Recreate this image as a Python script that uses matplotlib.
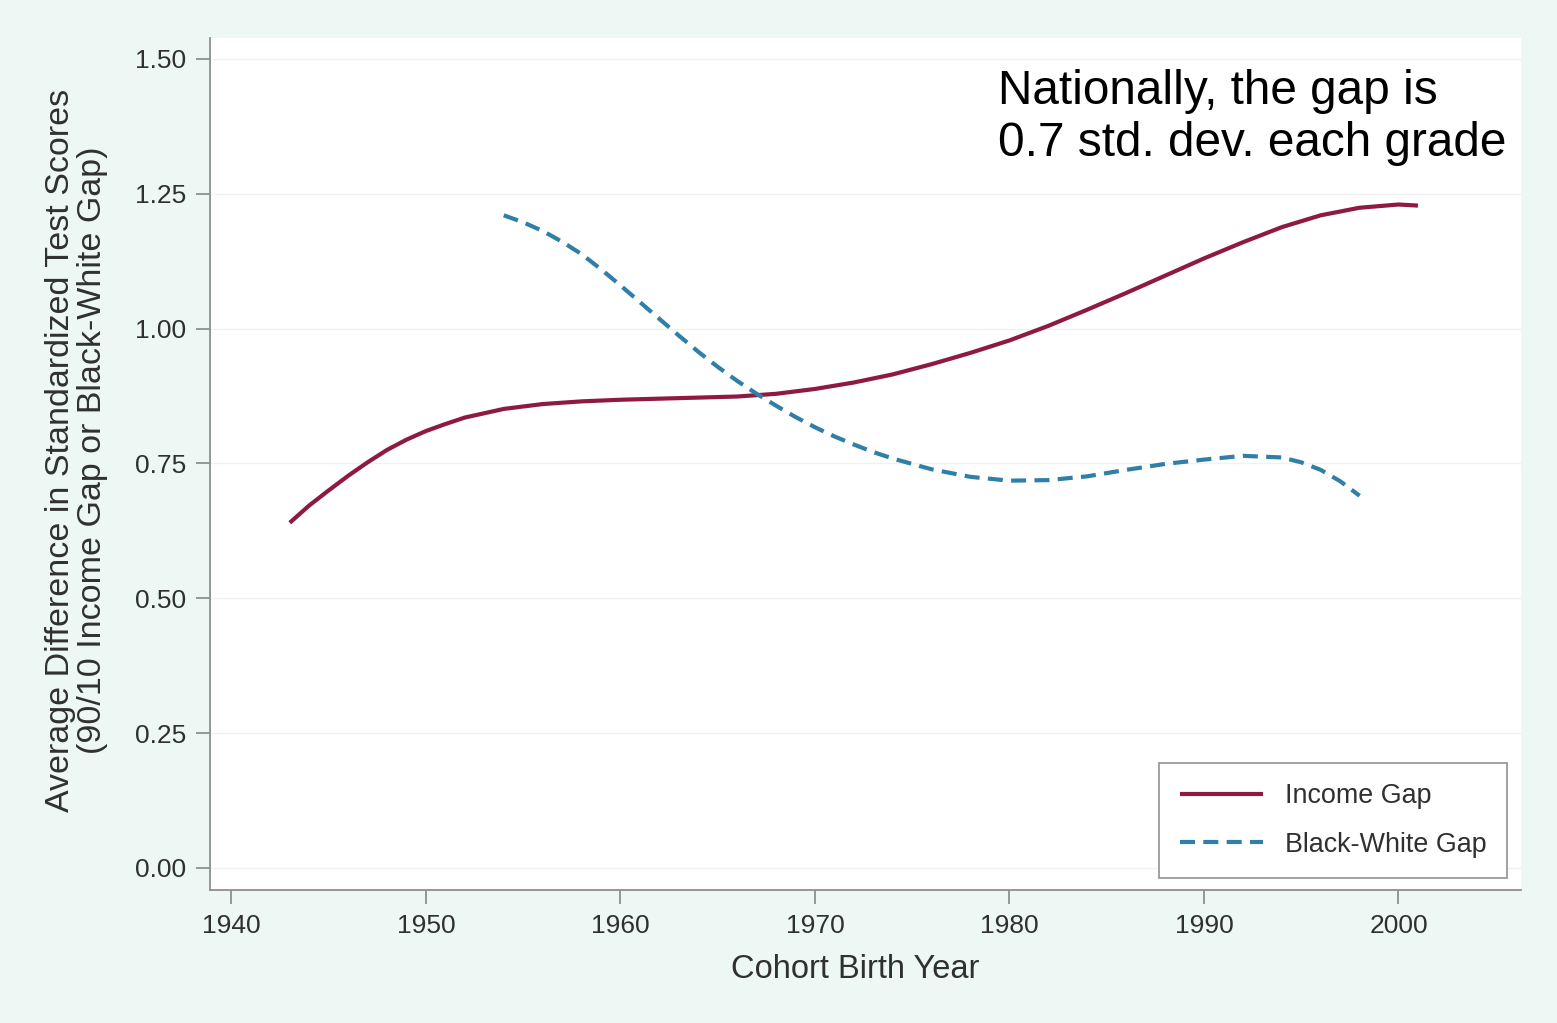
import matplotlib.pyplot as plt

# ----------------------------
# Data
# ----------------------------
income_years = [1943, 1944, 1945, 1946, 1947, 1948, 1949, 1950, 1951, 1952, 1954, 1956,
                1958, 1960, 1962, 1964, 1966, 1968, 1970, 1972, 1974, 1976, 1978, 1980,
                1982, 1984, 1986, 1988, 1990, 1992, 1994, 1996, 1998, 2000, 2001]
income_gap = [0.640, 0.672, 0.700, 0.727, 0.752, 0.775, 0.794, 0.810, 0.823, 0.835, 0.851, 0.860,
              0.865, 0.868, 0.870, 0.872, 0.874, 0.879, 0.888, 0.900, 0.915, 0.934, 0.955, 0.978,
              1.005, 1.035, 1.066, 1.098, 1.130, 1.160, 1.188, 1.210, 1.224, 1.230, 1.228]

bw_years = [1954, 1955, 1956, 1957, 1958, 1959, 1960, 1961, 1962, 1963, 1964, 1965, 1966,
            1967, 1968, 1969, 1970, 1971, 1972, 1973, 1974, 1976, 1978, 1980, 1982,
            1984, 1986, 1988, 1990, 1992, 1994, 1995, 1996, 1997, 1998]
bw_gap = [1.210, 1.197, 1.181, 1.161, 1.138, 1.110, 1.080, 1.049, 1.018, 0.987, 0.957, 0.929, 0.903,
          0.879, 0.857, 0.836, 0.817, 0.800, 0.785, 0.771, 0.759, 0.739, 0.725, 0.718, 0.719,
          0.726, 0.738, 0.749, 0.757, 0.764, 0.761, 0.752, 0.738, 0.717, 0.690]

x_ticks = [1940, 1950, 1960, 1970, 1980, 1990, 2000]
y_ticks = [0.00, 0.25, 0.50, 0.75, 1.00, 1.25, 1.50]

# ----------------------------
# Styling
# ----------------------------
plt.rcParams['font.family'] = ['Liberation Sans', 'DejaVu Sans']
bg = '#edf8f4'
axis_gray = '#8c9090'
text_gray = '#303030'
income_color = '#8e1a40'
bw_color = '#2f7fa7'

fig = plt.figure(figsize=(15.57, 10.23), dpi=100, facecolor=bg)
ax = fig.add_axes([0.1349, 0.130, 0.8420, 0.833])
ax.set_facecolor('white')

ax.plot(income_years, income_gap, color=income_color, lw=3.0, label='Income Gap',
        solid_capstyle='butt')
ax.plot(bw_years, bw_gap, color=bw_color, lw=3.0, label='Black-White Gap',
        dashes=(3.6, 2.0))

ax.set_xlim(1938.9, 2006.3)
ax.set_ylim(-0.041, 1.539)
ax.set_xticks(x_ticks)
ax.set_yticks(y_ticks)
ax.set_yticklabels([f'{v:.2f}' for v in y_ticks])

ax.grid(axis='y', color='#eef3f1', lw=1.0)
ax.set_axisbelow(True)

for side in ['top', 'right']:
    ax.spines[side].set_visible(False)
for side in ['left', 'bottom']:
    ax.spines[side].set_color(axis_gray)
    ax.spines[side].set_linewidth(1.3)

ax.tick_params(axis='both', colors=axis_gray, labelcolor=text_gray,
               labelsize=19, length=10, width=1.3, pad=7)

ax.set_xlabel('Cohort Birth Year', fontsize=23.5, color=text_gray)
ax.xaxis.set_label_coords(0.492, -0.075)
ax.set_ylabel('Average Difference in Standardized Test Scores\n'
              '(90/10 Income Gap or Black-White Gap)',
              fontsize=24.5, color=text_gray, linespacing=1.05)
ax.yaxis.set_label_coords(-0.0775, 0.516)

ax.text(0.601, 0.963, 'Nationally, the gap is\n0.7 std. dev. each grade',
        transform=ax.transAxes, fontsize=34.4, color='black', va='top', ha='left',
        linespacing=1.2)

leg = ax.legend(loc='lower right', bbox_to_anchor=(0.989, 0.014), fontsize=19.4,
                handlelength=3.1, handletextpad=0.8, borderpad=0.75,
                labelspacing=0.85, fancybox=False, framealpha=1.0,
                borderaxespad=0)
leg.get_frame().set_edgecolor('#9a9a9a')
leg.get_frame().set_linewidth(1.3)
for t in leg.get_texts():
    t.set_color(text_gray)

fig.savefig('out.png', dpi=100, facecolor=bg)
